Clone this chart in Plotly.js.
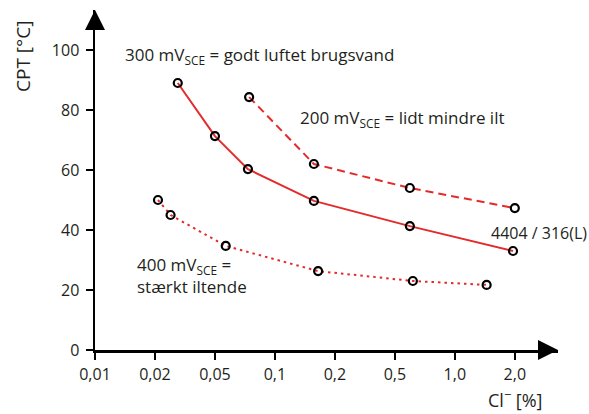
<!DOCTYPE html>
<html><head><meta charset="utf-8">
<script src="https://cdn.plot.ly/plotly-3.0.1.min.js"></script>
<style>html,body{margin:0;padding:0;background:#fff}#c{width:589px;height:414px}</style>
</head><body><div id="c"></div>
<script>
// x positions are in tick-index units (0 = 0,01 ... 7 = 2,0), evenly spaced as in the source chart
const tickLabels = ["0,01","0,02","0,05","0,1","0,2","0,5","1,0","2,0"];
const tickIdx = [0,1,2,3,4,5,6,7];
const yTicks = [0,20,40,60,80,100];

const x300 = [1.38, 2.0, 2.55, 3.65, 5.25, 6.97];
const y300 = [89, 71.3, 60.3, 49.7, 41.3, 33];
const x200 = [2.57, 3.65, 5.25, 7.0];
const y200 = [84.3, 62, 54, 47.3];
const x400 = [1.05, 1.26, 2.18, 3.72, 5.3, 6.53];
const y400 = [50, 45, 34.7, 26.3, 23, 21.7];

const red = "#e42a2a";
const txt = "#231f20";
const F = "Open Sans, Noto Sans, sans-serif";
const mk = {symbol:"circle-open", size:8, color:"#000", line:{width:2.2, color:"#000"}};

function tr(x,y,dash){
  return {x:x, y:y, mode:"lines+markers", line:{color:red, width:2, dash:dash},
    marker:mk, cliponaxis:false, hoverinfo:"skip", showlegend:false};
}
const data = [tr(x300,y300,"solid"), tr(x200,y200,"8px,5px"), tr(x400,y400,"2.5px,4px")];

const ann = (x,y,t,o) => Object.assign({x:x,y:y,xref:"x",yref:"y",text:t,showarrow:false,
  xanchor:"left",yanchor:"middle",align:"left",font:{family:F,size:17,color:txt}}, o||{});

const layout = {
  width:589, height:414,
  margin:{l:95, r:31, t:10, b:64},
  paper_bgcolor:"#fff", plot_bgcolor:"#fff",
  xaxis:{range:[0,7.72], tickmode:"array", tickvals:tickIdx, ticktext:tickLabels,
    showgrid:false, zeroline:false, showline:true, linewidth:2.5, linecolor:"#000",
    ticks:"outside", ticklen:7, tickwidth:2,
    tickcolor:"#000", tickfont:{family:F,size:16,color:txt}, ticklabelstandoff:1, fixedrange:true},
  yaxis:{range:[0,113.33], tickmode:"array", tickvals:yTicks,
    showgrid:false, zeroline:false, showline:true, linewidth:2.5, linecolor:"#000",
    ticks:"outside", ticklen:7, tickwidth:2,
    tickcolor:"#000", tickfont:{family:F,size:16,color:txt}, ticklabelstandoff:3, fixedrange:true},
  annotations:[
    {x:7.72, y:0, ax:-20, ay:0, xref:"x", yref:"y", showarrow:true,
     arrowhead:2, arrowsize:1.6, arrowwidth:2.5, arrowcolor:"#000", text:""},
    {x:0, y:113.33, ax:0, ay:20, xref:"x", yref:"y", showarrow:true,
     arrowhead:2, arrowsize:1.6, arrowwidth:2.5, arrowcolor:"#000", text:""},
    ann(0.467, 98.3, "300 mV<sub>SCE</sub> = godt luftet brugsvand"),
    ann(3.38, 77.3, "200 mV<sub>SCE</sub> = lidt mindre ilt"),
    ann(0.667, 24.7, "400 mV<sub>SCE</sub> =<br>stærkt iltende"),
    ann(6.57, 39, "4404 / 316(L)", {font:{family:F,size:16,color:txt}}),
    ann(0.846, -0.144, "Cl<sup>−</sup> [%]", {xref:"paper", yref:"paper", borderpad:0, font:{family:F,size:18,color:txt}}),
    ann(-0.1555, 0.862, "CPT [°C]", {xref:"paper", yref:"paper", xanchor:"center", textangle:-90, font:{family:F,size:19,color:txt}})
  ]
};
Plotly.newPlot("c", data, layout, {staticPlot:true, displayModeBar:false});
</script></body></html>
